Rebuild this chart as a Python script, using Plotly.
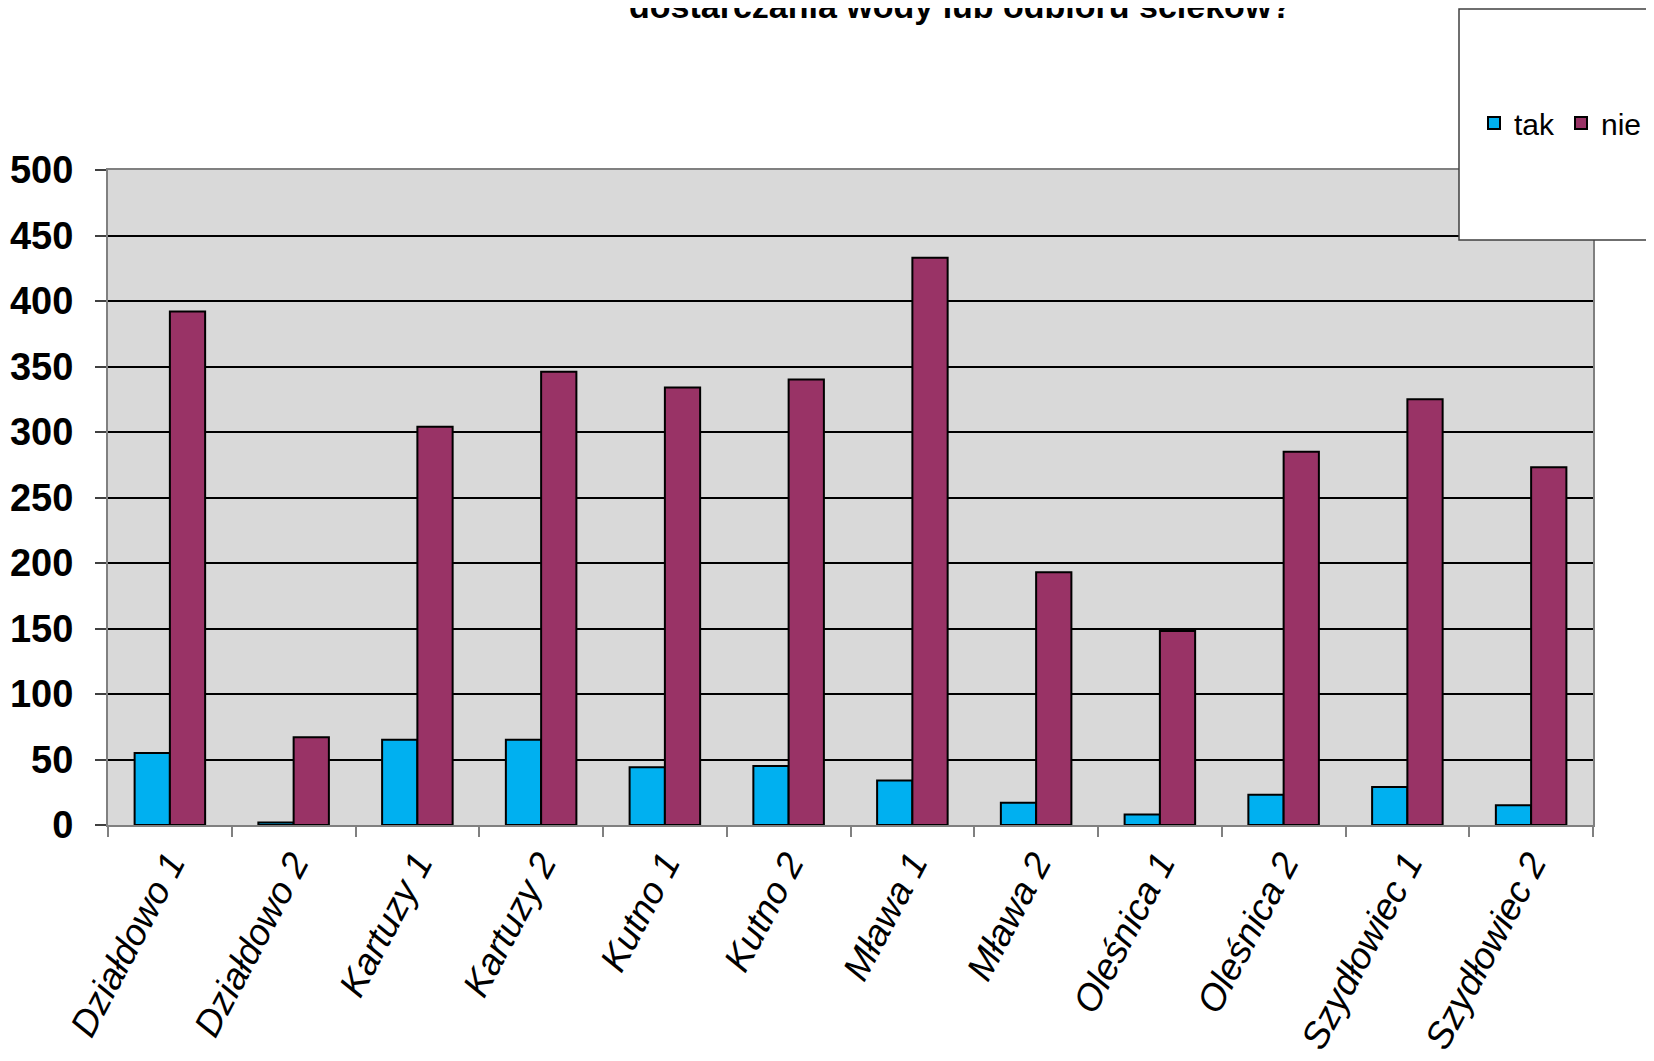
import plotly.graph_objects as go

categories = ["Działdowo 1", "Działdowo 2", "Kartuzy 1", "Kartuzy 2", "Kutno 1", "Kutno 2",
              "Mława 1", "Mława 2", "Oleśnica 1", "Oleśnica 2", "Szydłowiec 1", "Szydłowiec 2"]
tak = [55, 2, 65, 65, 44, 45, 34, 17, 8, 23, 29, 15]
nie = [392, 67, 304, 346, 334, 340, 433, 193, 148, 285, 325, 273]
y_ticks = [0, 50, 100, 150, 200, 250, 300, 350, 400, 450, 500]
title_text = "dostarczania wody lub odbioru ścieków?"

SANS = "Liberation Sans, Arial, sans-serif"

fig = go.Figure()
fig.add_trace(go.Bar(name="tak", x=categories, y=tak, marker=dict(color="#00B0F0", line=dict(color="black", width=2))))
fig.add_trace(go.Bar(name="nie", x=categories, y=nie, marker=dict(color="#993366", line=dict(color="black", width=2))))

W, H = 1654, 1061
L, R, T, B = 100, 69, 162, 244
ph = H - T - B

def py(pix):
    return (H - B - pix) / ph

def px(pix):
    return (pix - L) / (W - L - R)

fig.update_layout(
    width=W, height=H,
    margin=dict(l=L, r=R, t=T, b=B),
    paper_bgcolor="white",
    plot_bgcolor="#D9D9D9",
    barmode="group",
    bargap=0.43,
    bargroupgap=0,
    showlegend=True,
    legend=dict(orientation="h", xref="container", yref="container", x=1466 / W, y=1 - 115 / H,
                xanchor="left", yanchor="middle", bgcolor="rgba(0,0,0,0)", borderwidth=0,
                font=dict(family=SANS, size=30, color="black"),
                entrywidth=42, entrywidthmode="pixels", traceorder="normal"),
    xaxis=dict(type="category", showgrid=False, showline=True, linecolor="#808080", linewidth=2,
               mirror=True, ticks="outside", ticklen=10, tickcolor="#808080", tickwidth=1.5,
               tickson="boundaries", tickangle=-62, automargin=False,
               tickfont=dict(family=SANS, size=37, color="black", style="italic")),
    yaxis=dict(range=[0, 500], tickvals=y_ticks, showgrid=True, gridcolor="black", gridwidth=1.5,
               showline=True, linecolor="#808080", linewidth=2, mirror=True, zeroline=False,
               ticks="outside", ticklen=11, tickcolor="#404040", tickwidth=1.5,
               ticklabelstandoff=14, automargin=False,
               tickfont=dict(family=SANS, size=38, color="black", weight="bold")),
    shapes=[dict(type="rect", xref="paper", yref="paper", x0=px(1451), x1=px(1720), y0=py(232), y1=py(1),
                 fillcolor="white", line=dict(color="#404040", width=1.5), layer="above")],
    annotations=[dict(text=title_text, xref="paper", yref="paper", x=px(952), y=py(-2), xanchor="center",
                      yanchor="middle", showarrow=False,
                      font=dict(family=SANS, size=34, color="black", weight="bold"))],
)

fig.write_html("out.html")
